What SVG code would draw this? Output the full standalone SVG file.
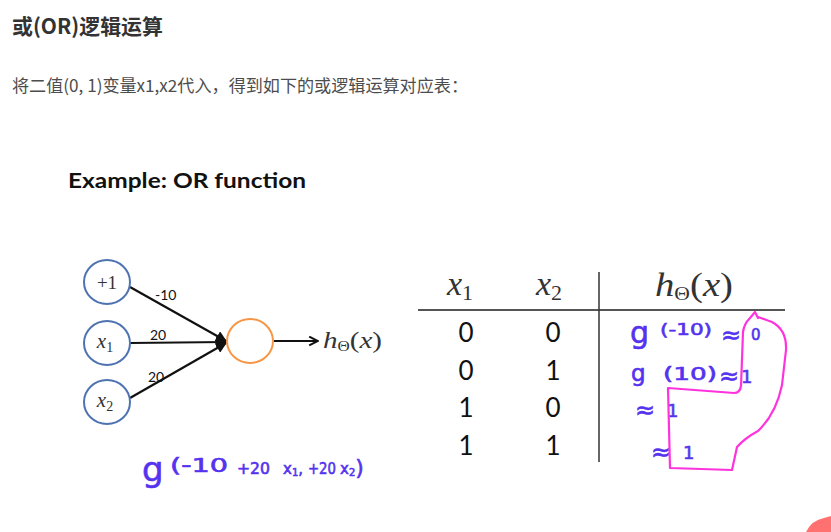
<svg xmlns="http://www.w3.org/2000/svg" width="831" height="532" viewBox="0 0 831 532">
<style>
.cjk{font-family:"Noto Sans CJK SC","Noto Sans",sans-serif}
.cm{font-family:"Liberation Serif","DejaVu Serif",serif;fill:#333}
.cal{font-family:Lato,"Open Sans",sans-serif;fill:#111}
.hand{font-family:"DejaVu Sans","Liberation Sans",sans-serif;fill:#5533ee;stroke:#5533ee;stroke-width:0.6}
.inp{fill:#fff;stroke:#4f73b0;stroke-width:2}
.edge{stroke:#111;stroke-width:2.2;fill:none}
</style>
<defs>
<marker id="tri" viewBox="0 0 10 10" refX="9" refY="5" markerWidth="5" markerHeight="5" orient="auto" markerUnits="strokeWidth">
<path d="M0,0 L10,5 L0,10 Z" fill="#111"/>
</marker>
<marker id="chev" viewBox="0 0 10 10" refX="9" refY="5" markerWidth="5" markerHeight="5" orient="auto" markerUnits="strokeWidth">
<path d="M1,1 L9,5 L1,9" fill="none" stroke="#111" stroke-width="1.8"/>
</marker>
</defs>
<rect width="831" height="532" fill="#fff"/>
<g id="heading">
<text class="cjk" x="12" y="34" font-size="21" font-weight="bold" fill="#333" textLength="151" lengthAdjust="spacingAndGlyphs">或(OR)逻辑运算</text>
<text class="cjk" x="12" y="92" font-size="17" fill="#4d4d4d" textLength="456" lengthAdjust="spacingAndGlyphs">将二值(0, 1)变量x1,x2代入，得到如下的或逻辑运算对应表：</text>
<text class="cal" x="68" y="188" font-size="21" font-weight="bold" textLength="238" lengthAdjust="spacingAndGlyphs">Example: OR function</text>
</g>
<g id="connectors">
<line class="edge" x1="130" y1="287" x2="226" y2="341" marker-end="url(#tri)"/>
<line class="edge" x1="130" y1="343" x2="226" y2="342" marker-end="url(#tri)"/>
<line class="edge" x1="130" y1="398" x2="226" y2="343" marker-end="url(#tri)"/>
<line class="edge" x1="274" y1="341" x2="318" y2="341" marker-end="url(#chev)"/>
<text class="cal" x="155" y="300" font-size="14">-10</text>
<text class="cal" x="150" y="340" font-size="14">20</text>
<text class="cal" x="148" y="382" font-size="14">20</text>
</g>
<g id="node-bias">
<ellipse class="inp" cx="107" cy="282" rx="23" ry="22"/>
<text class="cm" x="107" y="289" font-size="19" text-anchor="middle">+1</text>
</g>
<g id="node-x1">
<ellipse class="inp" cx="107" cy="343" rx="23" ry="22"/>
<text class="cm" x="105" y="348" font-size="21" text-anchor="middle" font-style="italic">x<tspan font-size="14" font-style="normal" dy="4">1</tspan></text>
</g>
<g id="node-x2">
<ellipse class="inp" cx="107" cy="402" rx="23" ry="22"/>
<text class="cm" x="105" y="407" font-size="21" text-anchor="middle" font-style="italic">x<tspan font-size="14" font-style="normal" dy="4">2</tspan></text>
</g>
<g id="node-out">
<ellipse cx="250" cy="341" rx="23" ry="22" fill="#fff" stroke="#f79646" stroke-width="2"/>
</g>
<g id="node-label">
<text class="cm" x="323" y="348" font-size="24" font-style="italic" textLength="59" lengthAdjust="spacingAndGlyphs">h<tspan font-size="14" font-style="normal" dy="3">Θ</tspan><tspan dy="-3" font-style="normal">(</tspan>x<tspan font-style="normal">)</tspan></text>
</g>
<g id="table">
<line x1="418" y1="310" x2="785" y2="310" stroke="#555" stroke-width="2"/>
<line x1="599" y1="272" x2="599" y2="462" stroke="#333" stroke-width="1.5"/>
<text class="cm" x="447" y="295" font-size="34" font-style="italic">x<tspan font-size="22" font-style="normal" dy="5">1</tspan></text>
<text class="cm" x="536" y="295" font-size="34" font-style="italic">x<tspan font-size="22" font-style="normal" dy="5">2</tspan></text>
<text class="cm" x="655" y="296" font-size="34" font-style="italic" textLength="78" lengthAdjust="spacingAndGlyphs">h<tspan font-size="19" font-style="normal" dy="4">Θ</tspan><tspan dy="-4" font-style="normal">(</tspan>x<tspan font-style="normal">)</tspan></text>
<g class="cal" font-size="26" text-anchor="middle">
<text x="466" y="342">0</text><text x="553" y="342">0</text>
<text x="466" y="380">0</text><text x="553" y="380">1</text>
<text x="466" y="417">1</text><text x="553" y="417">0</text>
<text x="466" y="455">1</text><text x="553" y="455">1</text>
</g>
</g>
<g id="handwriting">
<text class="hand" x="630" y="343" font-size="30">g</text>
<text class="hand" x="660" y="335" font-size="16" textLength="52" lengthAdjust="spacingAndGlyphs">(-10)</text>
<text class="hand" x="721" y="343" font-size="24">≈</text>
<text class="hand" x="751" y="340" font-size="15">0</text>
<text class="hand" x="631" y="381" font-size="23">g</text>
<text class="hand" x="663" y="380" font-size="18" textLength="54" lengthAdjust="spacingAndGlyphs">(10)</text>
<text class="hand" x="719" y="384" font-size="24">≈</text>
<text class="hand" x="741" y="383" font-size="18">1</text>
<text class="hand" x="635" y="418" font-size="24">≈</text>
<text class="hand" x="667" y="417" font-size="18">1</text>
<text class="hand" x="651" y="460" font-size="24">≈</text>
<text class="hand" x="683" y="459" font-size="18">1</text>
<text class="hand" x="142" y="481" font-size="34">g</text>
<text class="hand" x="170" y="472" font-size="19" textLength="58" lengthAdjust="spacingAndGlyphs">(-10</text>
<text class="hand" x="237" y="474" font-size="15" textLength="33" lengthAdjust="spacingAndGlyphs">+20</text>
<text class="hand" x="283" y="474" font-size="15">x<tspan font-size="10" dy="2">1</tspan><tspan dy="-2">,</tspan></text>
<text class="hand" x="308" y="474" font-size="15" textLength="28" lengthAdjust="spacingAndGlyphs">+20</text>
<text class="hand" x="340" y="474" font-size="15">x<tspan font-size="10" dy="2">2</tspan><tspan dy="-1" font-size="22">)</tspan></text>
</g>
<path id="pink-loop" d="M758,318 L755,312 L750,318 Q744,324 743,332 L741,386 Q740,393 734,393 L668,388 L670,468 L732,470 L737,447 Q745,438 758,431 Q776,414 782,385 L786,350 Q787,330 772,322 L758,317" fill="none" stroke="#ff33dd" stroke-width="2.2" stroke-linejoin="round" stroke-linecap="round"/>
<path d="M806,532 Q812,520 824,518 L831,516 L831,532 Z" fill="#ff4d4d" opacity="0.8"/>
</svg>
